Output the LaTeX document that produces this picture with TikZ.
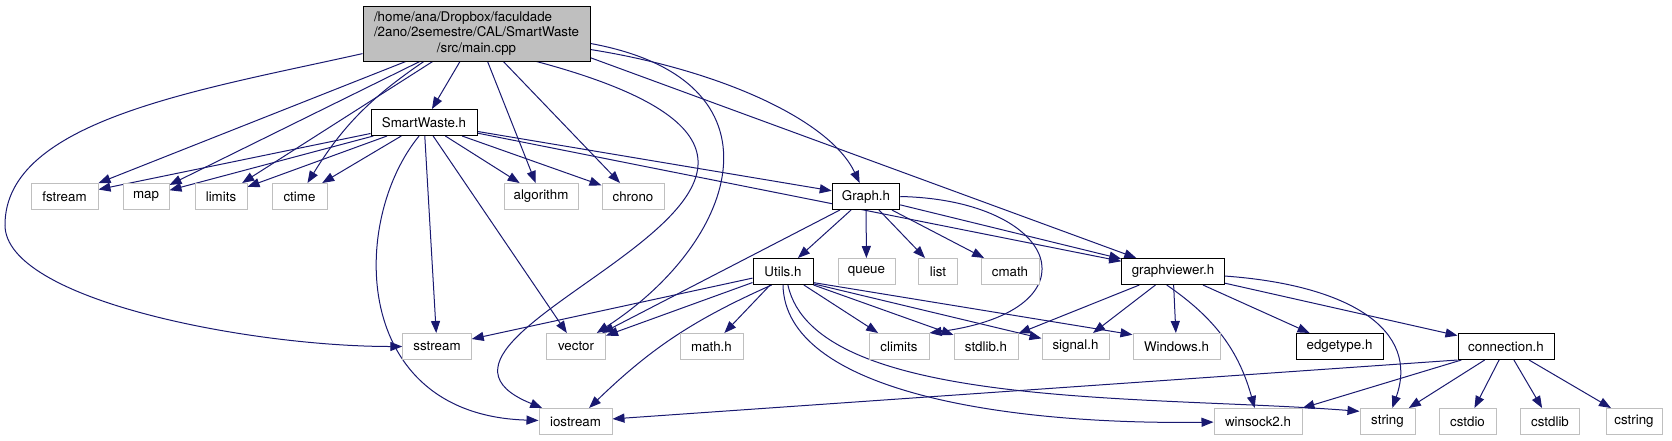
\documentclass[tikz,border=0pt]{standalone}
\usepackage{fontspec}
\setmainfont{TeX Gyre Heros}
\usetikzlibrary{arrows.meta,backgrounds}
\definecolor{edgeblue}{HTML}{191970}
\definecolor{sysgray}{HTML}{BFBFBF}

\begin{document}
\begin{tikzpicture}[x=0.75pt,y=-0.75pt,>={Triangle[length=9pt,width=6.8pt]},
	font=\fontsize{10}{11.7}\selectfont,
	wd/.style={minimum width=#1*0.75pt},
	file/.style={draw=black,fill=white,line width=0.75pt,inner sep=0pt,minimum height=19.5pt},
	sys/.style={file,draw=sysgray},
	root/.style={file,fill=sysgray,minimum height=41.25pt},
	inc/.style={->,draw=edgeblue,line width=0.75pt}]
	
	\useasboundingbox (0,0) rectangle (1672,440);
	
	% the file itself
	\node[root,wd=227] (main) at (476.5,33.5) {\begin{tabular}{@{}l@{}}/home/ana/Dropbox/faculdade\\/2ano/2semestre/CAL/SmartWaste\\\multicolumn{1}{@{}c@{}}{/src/main.cpp}\end{tabular}};
	\node[file,wd=106] (smartwaste) at (424,122.5) {SmartWaste.h};
	
	% first row of headers
	\node[sys,wd=67] (fstream) at (64.5,196.5) {fstream};
	\node[sys,wd=46] (map) at (146,196.5) {map};
	\node[sys,wd=52] (limits) at (221,196.5) {limits};
	\node[sys,wd=55] (ctime) at (299.5,196.5) {ctime};
	\node[sys,wd=74] (algorithm) at (541,196.5) {algorithm};
	\node[sys,wd=62] (chrono) at (633,196.5) {chrono};
	\node[file,wd=67.5] (graph) at (866,196.5) {Graph.h};
	
	% second row
	\node[file,wd=60] (utils) at (783,271.5) {Utils.h};
	\node[sys,wd=57] (queue) at (866.5,271.5) {queue};
	\node[sys,wd=38.5] (list) at (938,271.5) {list};
	\node[sys,wd=58] (cmath) at (1010,271.5) {cmath};
	\node[file,wd=102.5] (graphviewer) at (1173,271.5) {graphviewer.h};
	
	% third row
	\node[sys,wd=68.5] (sstream) at (437,346.5) {sstream};
	\node[sys,wd=59] (vector) at (576,346.5) {vector};
	\node[sys,wd=63] (mathh) at (711.5,346.5) {math.h};
	\node[sys,wd=60] (climits) at (899,346.5) {climits};
	\node[sys,wd=64] (stdlib) at (986,346.5) {stdlib.h};
	\node[sys,wd=67] (signal) at (1075.5,346.5) {signal.h};
	\node[sys,wd=87] (windows) at (1176.5,346.5) {Windows.h};
	\node[file,wd=87] (edgetype) at (1339.5,346.5) {edgetype.h};
	\node[file,wd=96] (connection) at (1506,346.5) {connection.h};
	
	% last row
	\node[sys,wd=73] (iostream) at (575.5,421.5) {iostream};
	\node[sys,wd=88] (winsock) at (1258,421.5) {winsock2.h};
	\node[sys,wd=55] (string) at (1387.5,421.5) {string};
	\node[sys,wd=57] (cstdio) at (1467.5,421.5) {cstdio};
	\node[sys,wd=59.5] (cstdlib) at (1550,421.5) {cstdlib};
	\node[sys,wd=56] (cstring) at (1634,421.5) {cstring};
	
	\begin{pgfonlayer}{background}
		% includes of main.cpp
		\draw[inc] (main.190) .. controls (200,90) and (5,120) .. (5,225)
		.. controls (5,300) and (250,346.5) .. (sstream);
		\draw[inc] (main) -- (fstream);
		\draw[inc] (main) -- (map);
		\draw[inc] (main) -- (limits);
		\draw[inc] (main.208) to[bend right=12] (ctime);
		\draw[inc] (main) -- (smartwaste);
		\draw[inc] (main) -- (algorithm);
		\draw[inc] (main) -- (chrono);
		\draw[inc] (main.-25) .. controls (980,180) and (350,330) .. (iostream);
		\draw[inc] (main.-5) .. controls (790,80) and (740,240) .. (vector);
		\draw[inc] (main.-8) .. controls (720,70) and (830,120) .. (graph);
		\draw[inc] (main.-12) -- (graphviewer);
		
		% includes of SmartWaste.h
		\draw[inc] (smartwaste) -- (fstream);
		\draw[inc] (smartwaste) -- (map);
		\draw[inc] (smartwaste) -- (limits);
		\draw[inc] (smartwaste) -- (ctime);
		\draw[inc] (smartwaste) -- (algorithm);
		\draw[inc] (smartwaste) -- (chrono);
		\draw[inc] (smartwaste) -- (graph);
		\draw[inc] (smartwaste) -- (graphviewer);
		\draw[inc] (smartwaste) -- (sstream);
		\draw[inc] (smartwaste) -- (vector);
		\draw[inc] (smartwaste.250) .. controls (350,220) and (350,415) .. (iostream);
		
		% includes of Graph.h
		\draw[inc] (graph) -- (utils);
		\draw[inc] (graph) -- (queue);
		\draw[inc] (graph) -- (list);
		\draw[inc] (graph) -- (cmath);
		\draw[inc] (graph) -- (graphviewer);
		\draw[inc] (graph) -- (vector);
		\draw[inc] (graph.east) .. controls (1060,200) and (1100,310) .. (climits.north east);
		
		% includes of Utils.h
		\draw[inc] (utils) -- (sstream);
		\draw[inc] (utils) -- (vector);
		\draw[inc] (utils.-130) to[bend right=10] (iostream);
		\draw[inc] (utils) -- (mathh);
		\draw[inc] (utils) -- (climits);
		\draw[inc] (utils.south east) -- (stdlib);
		\draw[inc] (utils.-22) -- (signal);
		\draw[inc] (utils.-20) -- (windows.165);
		\draw[inc] (utils.south) .. controls (785,390) and (1000,425) .. (winsock);
		\draw[inc] (utils.-70) .. controls (815,410) and (1150,395) .. (string.160);
		
		% includes of graphviewer.h
		\draw[inc] (graphviewer) -- (stdlib);
		\draw[inc] (graphviewer) -- (signal);
		\draw[inc] (graphviewer) -- (windows);
		\draw[inc] (graphviewer.-115) to[bend left=20] (winsock);
		\draw[inc] (graphviewer) -- (edgetype);
		\draw[inc] (graphviewer) -- (connection);
		\draw[inc] (graphviewer.-5) .. controls (1350,285) and (1420,330) .. (string);
		
		% includes of connection.h
		\draw[inc] (connection.south west) -- (iostream);
		\draw[inc] (connection) -- (winsock);
		\draw[inc] (connection) -- (string);
		\draw[inc] (connection) -- (cstdio);
		\draw[inc] (connection) -- (cstdlib);
		\draw[inc] (connection) -- (cstring);
	\end{pgfonlayer}
	
\end{tikzpicture}
\end{document}
